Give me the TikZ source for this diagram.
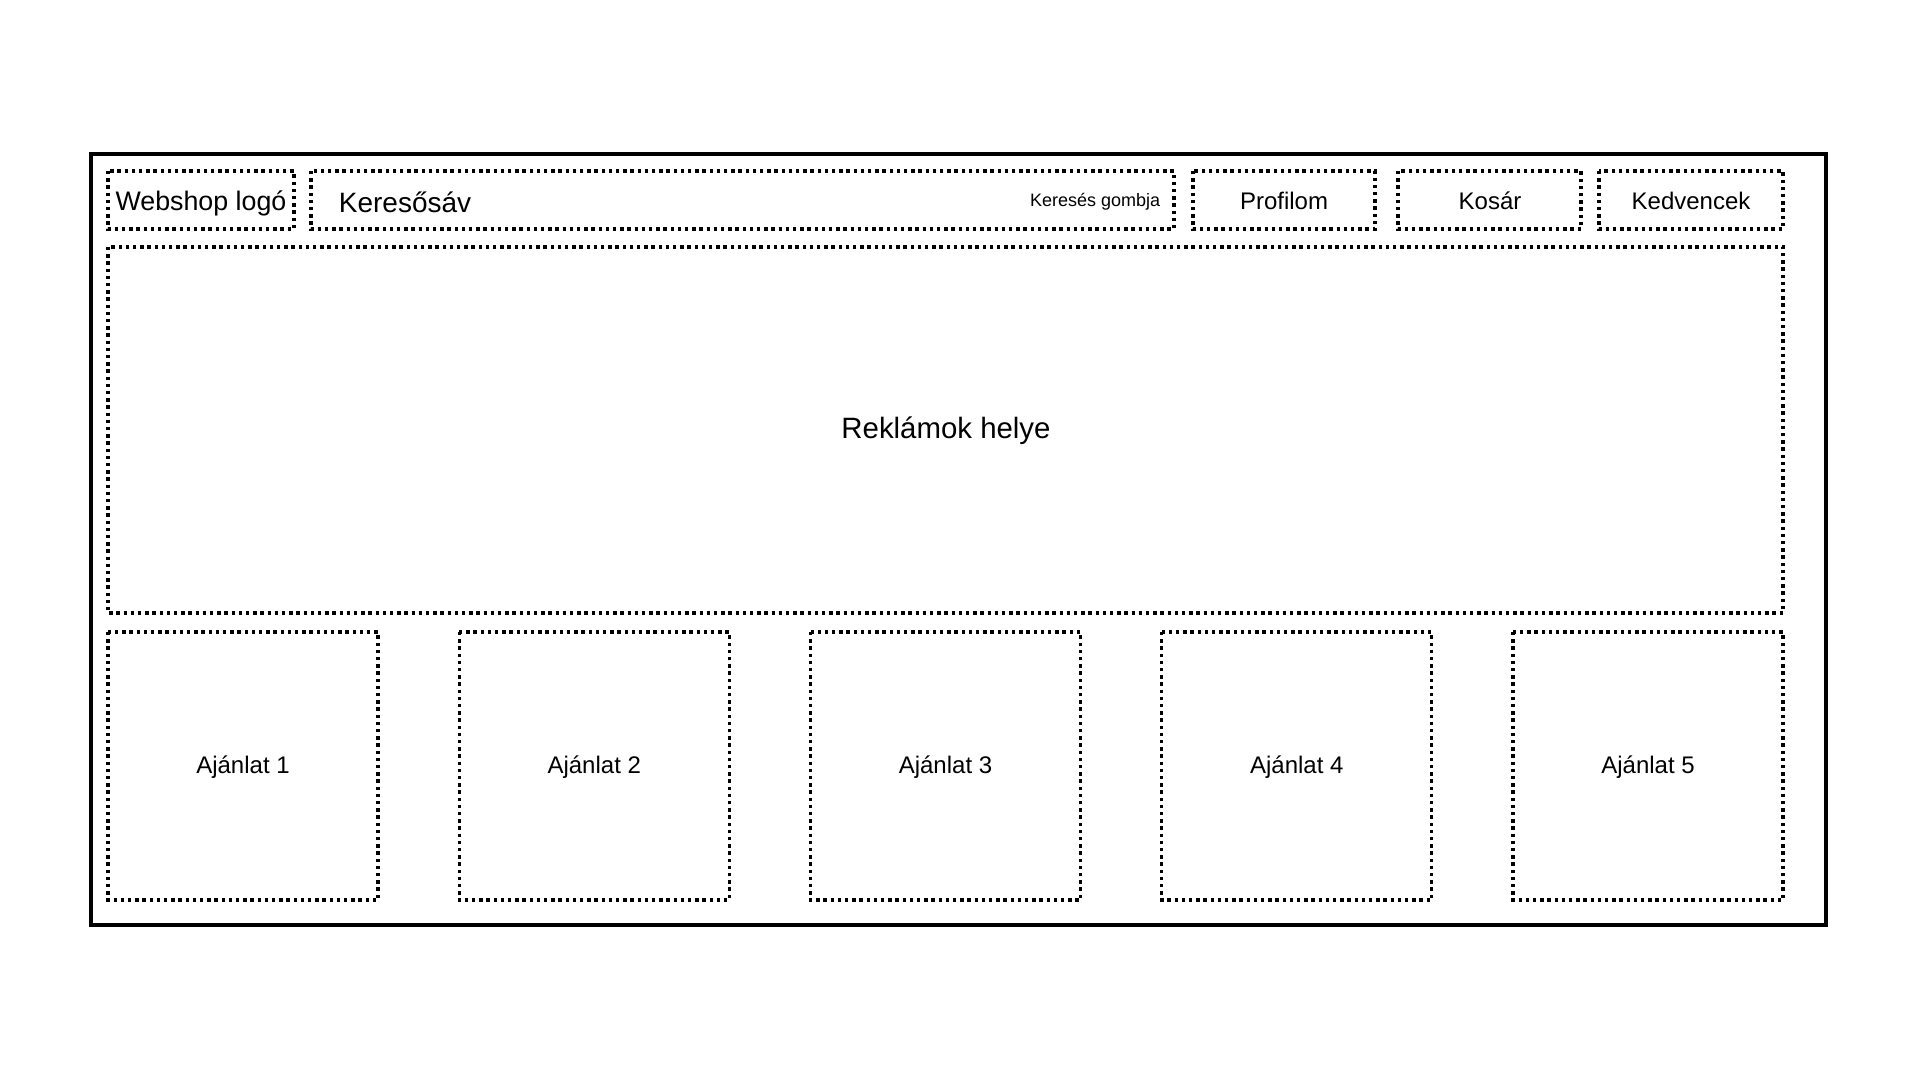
\documentclass[tikz,border=0pt]{standalone}
\usepackage{fontspec}
\setmainfont{Liberation Sans}
\usepackage{tikz}
\usetikzlibrary{patterns}

\tikzset{
  dotbox/.style={line width=1.6pt, dash pattern={on 1.7pt off 1.9pt}},
  frame/.style={line width=2pt},
  lbl/.style={inner sep=0.75pt, font=\fontsize{12pt}{14pt}\selectfont}
}

\begin{document}
\begin{tikzpicture}[x=0.5pt,y=0.5pt,yscale=-1,xscale=1]
\useasboundingbox (0,0) rectangle (1920,1080);

%Shape: Rectangle [id:frame] 
\draw  [frame] (91,154) rectangle (1826,925) ;

%Shape: Rectangle [id:logo] 
\draw  [dotbox] (108,171) rectangle (294,229) ;
%Shape: Rectangle [id:search] 
\draw  [dotbox] (311,171) rectangle (1174,229) ;
%Shape: Rectangle [id:profile] 
\draw  [dotbox] (1193,171) rectangle (1375,229) ;
%Shape: Rectangle [id:cart] 
\draw  [dotbox] (1398,171) rectangle (1581,229) ;
%Shape: Rectangle [id:favs] 
\draw  [dotbox] (1599,171) rectangle (1783,229) ;
%Shape: Rectangle [id:ads] 
\draw  [dotbox] (108,247) rectangle (1783,613) ;

%Shape: Rectangle [id:offers] 
\foreach \i in {0,...,4}
  \draw  [dotbox] (108+351.25*\i,632) rectangle (378+351.25*\i,900) ;

% Text Node
\node (logotxt) at (201,203) [lbl, font=\fontsize{13.4pt}{15pt}\selectfont] {Webshop logó};
% Text Node
\node (searchtxt) at (337,202) [lbl, anchor=west, font=\fontsize{14pt}{16pt}\selectfont] {Keresősáv};
% Text Node
\node (searchbtn) at (1162,202) [lbl, anchor=east, font=\fontsize{9pt}{11pt}\selectfont] {Keresés gombja};
% Text Node
\node (profiletxt) at (1284,201) [lbl] {Profilom};
% Text Node
\node (carttxt) at (1490,201) [lbl] {Kosár};
% Text Node
\node (favstxt) at (1691,201) [lbl] {Kedvencek};
% Text Node
\node (adstxt) at (946,431) [lbl, font=\fontsize{14.7pt}{17pt}\selectfont] {Reklámok helye};

% Text Node
\foreach \i in {1,...,5}
  \node (offer\i) at (243+351.25*\i-351.25,767) [lbl] {Ajánlat \i};

\end{tikzpicture}
\end{document}
